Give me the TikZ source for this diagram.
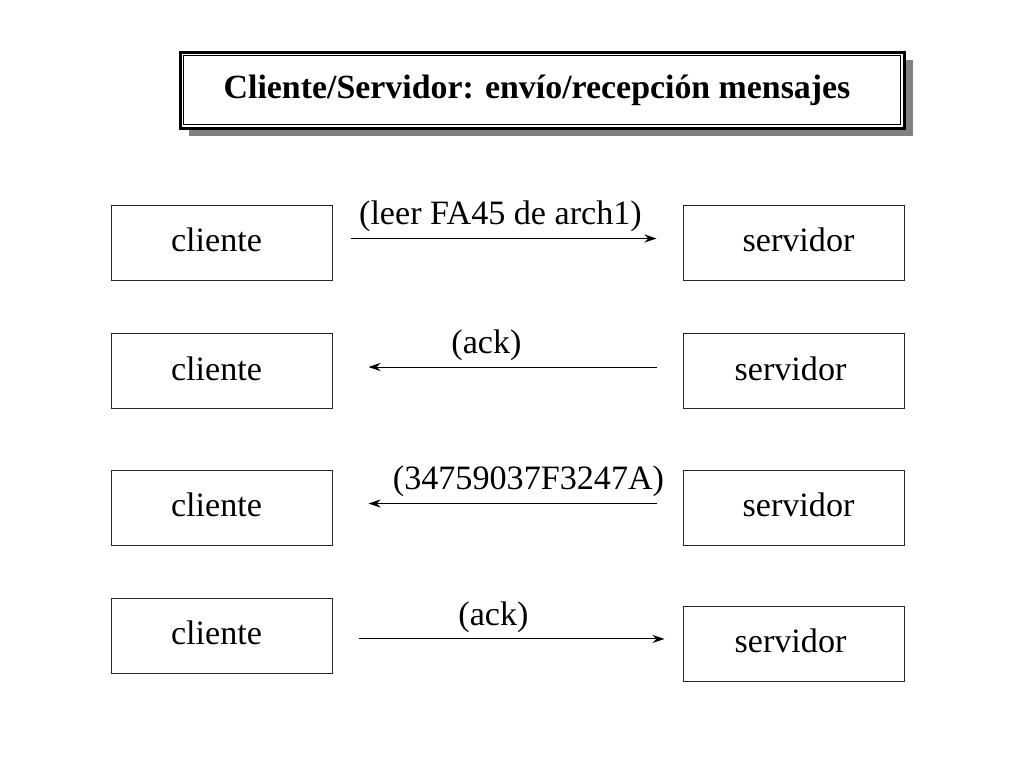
\documentclass[tikz,border=0pt]{standalone}
\usepackage{fontspec}
\setmainfont{Liberation Serif}
\usetikzlibrary{
  arrows.meta,
  shadows
}

\begin{document}
\begin{tikzpicture}[
    x=0.75pt, y=-0.75pt,
    font=\fontsize{25.6}{30}\selectfont,
  box/.style = {shape=rectangle, draw=black!85, line width=0.75pt,
    minimum width=165.75pt, minimum height=56.25pt, inner sep=0pt,
    text depth=4pt},
  msg/.style = {draw, line width=0.75pt, -{Stealth[length=9pt,width=6pt]}}]
    \tikzstyle{titlebox}=[shape=rectangle, draw, line width=2.25pt, fill=white,
      minimum width=543pt, minimum height=57pt,
      drop shadow={shadow xshift=6.5pt, shadow yshift=-6pt, fill=black!50, opacity=1}]
  \useasboundingbox (0,0) rectangle (1024,768);
  % titulo
  \node[titlebox] (title) at (542,90)
    {\fontsize{25.4}{30}\selectfont\textbf{Cliente/Servidor: envío/recepción mensajes}\kern7.5pt};
  \draw[line width=0.6pt] ([xshift=4pt,yshift=-4pt]title.north west)
    rectangle ([xshift=-4pt,yshift=4pt]title.south east);
  % cajas
  \node[box] (cli1) at (221.5,242.5) {cliente\kern7.5pt};
  \node[box] (srv1) at (793.5,242.5) {\kern7.5pt servidor};
  \node[box] (cli2) at (221.5,371) {cliente\kern7.5pt};
  \node[box] (srv2) at (793.5,371) {servidor\kern4.5pt};
  \node[box] (cli3) at (221.5,507.5) {cliente\kern7.5pt};
  \node[box] (srv3) at (793.5,507.5) {\kern7.5pt servidor};
  \node[box] (cli4) at (221.5,635.5) {cliente\kern7.5pt};
  \node[box] (srv4) at (793.5,643.5) {servidor\kern4.5pt};
  % mensajes
  \draw[msg, shorten <=13.5pt, shorten >=19.5pt] ([yshift=3pt]cli1.east) -- ([yshift=3pt]srv1.west)
    node[pos=0.48, above=1pt] (m1) {(leer FA45 de arch1)};
  \draw[msg, shorten <=19.5pt, shorten >=27pt] ([yshift=3pt]srv2.west) -- ([yshift=3pt]cli2.east)
    node[pos=0.56, above=1pt] (m2) {(ack)};
  \draw[msg, shorten <=19.5pt, shorten >=27pt] ([yshift=3pt]srv3.west) -- ([yshift=3pt]cli3.east)
    node[pos=0.44, above=1pt] (m3) {(34759037F3247A)};
  \draw[msg, shorten <=19.5pt, shorten >=13.5pt] ([yshift=-2.6pt]cli4.east) -- ([yshift=3.4pt]srv4.west)
    node[pos=0.46, above=1pt] (m4) {(ack)};
\end{tikzpicture}
\end{document}
